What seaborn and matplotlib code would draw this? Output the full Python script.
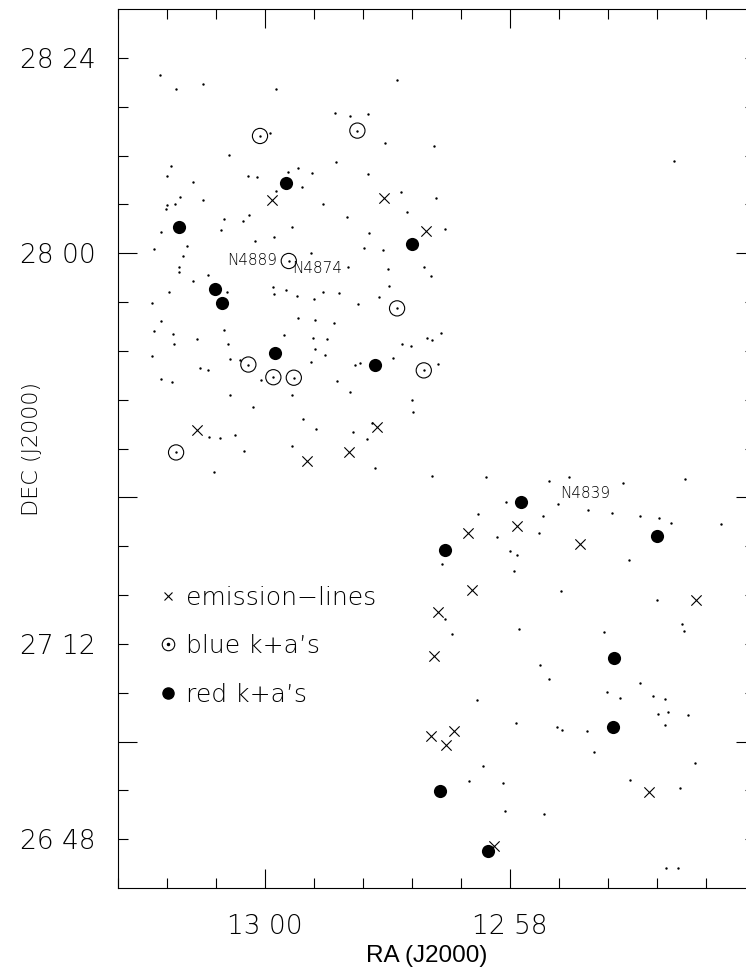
import numpy as np
import pandas as pd
import seaborn as sns
import matplotlib
matplotlib.use("Agg")
import matplotlib.pyplot as plt
from matplotlib.lines import Line2D
from matplotlib.legend_handler import HandlerTuple
from matplotlib.ticker import MultipleLocator

# RA in minutes past 12h, DEC in degrees
dot_ra = [60.857, 60.729, 60.503, 59.910, 59.959, 59.431, 59.306, 59.156, 60.294, 59.423,
          60.770, 60.802, 60.590, 60.136, 60.065, 59.814, 59.728, 59.614, 59.156, 59.700,
          59.910, 60.696, 60.802, 60.732, 60.808, 60.508, 59.524, 60.128, 60.179, 60.334,
          60.361, 59.782, 59.333, 60.849, 60.081, 59.926, 59.148, 60.634, 60.903, 60.672,
          59.189, 59.627, 60.704, 60.704, 59.322, 60.463, 60.585, 60.781, 60.312, 59.937,
          59.926, 59.828, 59.736, 59.529, 59.393, 60.925, 59.597, 59.241, 60.846, 60.906,
          60.751, 60.745, 60.552, 60.332, 60.304, 59.842, 59.733, 59.589, 59.439, 59.608,
          59.494, 59.594, 59.507, 60.925, 60.288, 60.206, 60.530, 60.467, 59.624, 59.263,
          59.222, 60.846, 60.756, 60.035, 60.288, 59.782, 59.412, 59.303, 60.098, 59.687,
          59.581, 59.124, 60.457, 60.367, 60.242, 59.284, 59.170, 60.169, 59.779, 60.418,
          58.922, 59.020, 58.620, 56.659, 58.890, 58.601, 58.841, 58.530, 59.036, 58.998,
          58.702, 58.645, 58.987, 59.072, 58.561, 58.677, 58.634, 58.881, 58.808, 58.955,
          58.590, 58.802, 58.792, 59.104, 58.636, 58.196, 57.681, 57.516, 56.571, 57.077,
          58.030, 58.259, 57.728, 57.608, 57.363, 57.165, 56.936, 56.783, 56.688, 56.280,
          58.103, 57.763, 58.552, 58.000, 57.945, 57.967, 57.031, 57.581, 56.797, 58.530,
          58.473, 57.926, 57.235, 56.596, 56.582, 57.755, 57.684, 56.936, 57.205, 57.104,
          56.835, 56.732, 58.267, 56.792, 56.707, 56.544, 56.732, 57.948, 57.614, 57.575,
          57.369, 57.316, 58.220, 56.492, 58.337, 58.057, 57.023, 56.609, 58.043, 57.722,
          56.729, 56.628]
dot_dec = [28.365, 28.337, 28.346, 28.337, 28.247, 28.287, 28.281, 28.286, 28.201, 28.186,
           28.178, 28.158, 28.145, 28.159, 28.155, 28.166, 28.175, 28.165, 28.163, 28.135,
           28.128, 28.115, 28.099, 28.100, 28.090, 28.108, 28.101, 28.078, 28.065, 28.070,
           28.047, 28.054, 28.074, 28.044, 28.025, 28.034, 28.042, 28.014, 28.008, 27.994,
           28.010, 28.001, 27.972, 27.962, 27.972, 27.955, 27.943, 27.921, 27.920, 27.930,
           27.917, 27.925, 27.912, 27.920, 27.918, 27.899, 27.906, 27.895, 27.861, 27.841,
           27.835, 27.814, 27.824, 27.842, 27.815, 27.833, 27.868, 27.864, 27.857, 27.826,
           27.825, 27.803, 27.791, 27.790, 27.783, 27.781, 27.765, 27.761, 27.777, 27.772,
           27.775, 27.742, 27.736, 27.740, 27.710, 27.709, 27.738, 27.715, 27.685, 27.660,
           27.641, 27.652, 27.624, 27.622, 27.628, 27.633, 27.619, 27.594, 27.605, 27.551,
           28.354, 28.225, 28.219, 28.188, 28.126, 28.114, 28.084, 28.049, 28.006, 27.967,
           27.971, 27.953, 27.933, 27.911, 27.837, 27.827, 27.823, 27.814, 27.810, 27.785,
           27.774, 27.700, 27.674, 27.561, 27.544, 27.542, 27.533, 27.542, 27.538, 27.529,
           27.491, 27.465, 27.461, 27.486, 27.475, 27.467, 27.462, 27.457, 27.448, 27.446,
           27.419, 27.428, 27.363, 27.391, 27.382, 27.350, 27.372, 27.309, 27.290, 27.251,
           27.220, 27.231, 27.225, 27.241, 27.227, 27.156, 27.128, 27.119, 27.102, 27.089,
           27.093, 27.087, 27.086, 27.056, 27.060, 27.055, 27.034, 27.037, 27.029, 27.024,
           27.021, 26.979, 26.949, 26.956, 26.920, 26.915, 26.921, 26.904, 26.858, 26.851,
           26.741, 26.741]

emis_ra = [59.940, 60.552, 59.659, 59.312, 59.028, 58.688, 59.085, 58.343, 57.945, 57.426,
           58.312, 56.481, 58.590, 58.623, 58.647, 58.457, 58.522, 56.863, 58.130]
emis_dec = [28.108, 27.637, 27.575, 27.593, 28.114, 28.045, 27.644, 27.428, 27.442, 27.404,
            27.310, 27.290, 27.265, 27.175, 27.012, 27.022, 26.993, 26.897, 26.786]

blue_ra = [60.041, 59.246, 59.806, 60.136, 59.932, 59.765, 60.726, 58.922, 58.704]
blue_dec = [28.240, 28.251, 27.984, 27.772, 27.746, 27.745, 27.592, 27.887, 27.760]

red_ra = [59.828, 60.704, 60.405, 60.353, 59.916, 58.800, 59.104, 57.907, 58.528, 56.800,
          57.151, 57.159, 58.571, 58.177]
red_dec = [28.143, 28.053, 27.927, 27.898, 27.796, 28.018, 27.772, 27.491, 27.393, 27.421,
           27.172, 27.029, 26.899, 26.776]

gal_names = ["N4889", "N4874", "N4839"]
gal_ra = [59.90, 59.78, 57.59]
gal_dec = [27.984, 27.969, 27.508]
gal_ha = ["right", "left", "left"]

legend_labels = ["emission\u2212lines", "blue k+a\u2019s", "red k+a\u2019s"]
x_major = [60.0, 58.0, 56.0]
x_major_labels = ["13 00", "12 58", ""]
y_major = [28.0, 27.5, 27.0]
y_major_labels = ["28 00", "", ""]
y_minor = [28.4, 28.3, 28.2, 28.1, 27.9, 27.8, 27.7, 27.6, 27.4, 27.3, 27.2, 27.1, 26.9, 26.8]
y_minor_labels = ["28 24", "", "", "", "", "", "", "", "", "", "27 12", "", "", "26 48"]

sns.set_style("ticks")
plt.rcParams["font.family"] = ["DejaVu Sans"]
plt.rcParams.update({"text.color": "black", "axes.labelcolor": "black",
                     "xtick.color": "black", "ytick.color": "black",
                     "axes.edgecolor": "black"})

fig = plt.figure(figsize=(7.46, 9.68), dpi=100)
ax = fig.add_axes([0.1582, 0.0826, 0.8539, 0.9081])

sns.scatterplot(x=dot_ra, y=dot_dec, ax=ax, marker="o", s=3, color="black",
                linewidth=0, legend=False)
sns.scatterplot(x=emis_ra, y=emis_dec, ax=ax, marker="x", s=55, color="black",
                linewidth=0.8, legend=False)
sns.scatterplot(x=blue_ra, y=blue_dec, ax=ax, marker="o", s=120, facecolor="none",
                edgecolor="black", linewidth=0.8, legend=False)
sns.scatterplot(x=blue_ra, y=blue_dec, ax=ax, marker="o", s=3, color="black",
                linewidth=0, legend=False)
sns.scatterplot(x=red_ra, y=red_dec, ax=ax, marker="o", s=90, color="black",
                linewidth=0, legend=False)

for name, ra, dec, ha in zip(gal_names, gal_ra, gal_dec, gal_ha):
    ax.text(ra, dec, name, ha=ha, va="center", fontsize=11, fontweight="light",
            color="black")

ax.set_xlim(61.2, 56.0)
ax.set_ylim(26.7, 28.5)

ax.set_xticks(x_major, x_major_labels)
ax.xaxis.set_minor_locator(MultipleLocator(0.4))
ax.set_yticks(y_major, y_major_labels)
ax.set_yticks(y_minor, y_minor_labels, minor=True)
ax.tick_params(which="both", direction="in", top=True, right=True, width=0.8,
               labelsize=19, colors="black")
ax.tick_params(axis="y", which="both", pad=16)
ax.tick_params(axis="x", which="both", pad=19)
ax.tick_params(which="major", length=14)
ax.tick_params(which="minor", length=7.5)
for lab in ax.get_xticklabels() + ax.get_yticklabels(minor=True) + ax.get_yticklabels():
    lab.set_fontweight("light")
for sp in ax.spines.values():
    sp.set_linewidth(0.8)
    sp.set_color("black")

ax.set_xlabel("RA (J2000)", family="Liberation Sans", fontsize=17.5, va="center",
              color="black")
ax.xaxis.set_label_coords(0.485, -0.077)
ax.set_ylabel("DEC (J2000)", fontsize=16, fontweight="light", va="center", color="black")
ax.yaxis.set_label_coords(-0.135, 0.5)

h_emis = Line2D([], [], marker="x", linestyle="none", color="black", markersize=6,
                markeredgewidth=0.8)
h_blue_ring = Line2D([], [], marker="o", linestyle="none", markerfacecolor="none",
                     markeredgecolor="black", markersize=9, markeredgewidth=0.8)
h_blue_dot = Line2D([], [], marker="o", linestyle="none", color="black", markersize=1.5)
h_red = Line2D([], [], marker="o", linestyle="none", color="black", markersize=8)
leg = ax.legend([h_emis, (h_blue_ring, h_blue_dot), h_red], legend_labels,
                handler_map={tuple: HandlerTuple(ndivide=1, pad=0)},
                loc="center left", bbox_to_anchor=(0.0628, 0.2753), frameon=False,
                borderpad=0, borderaxespad=0, handlelength=0.8, handletextpad=0.3,
                labelspacing=0.98, prop={"size": 18, "weight": "light"})
for t in leg.get_texts():
    t.set_color("black")

fig.savefig("out.png", dpi=100)
